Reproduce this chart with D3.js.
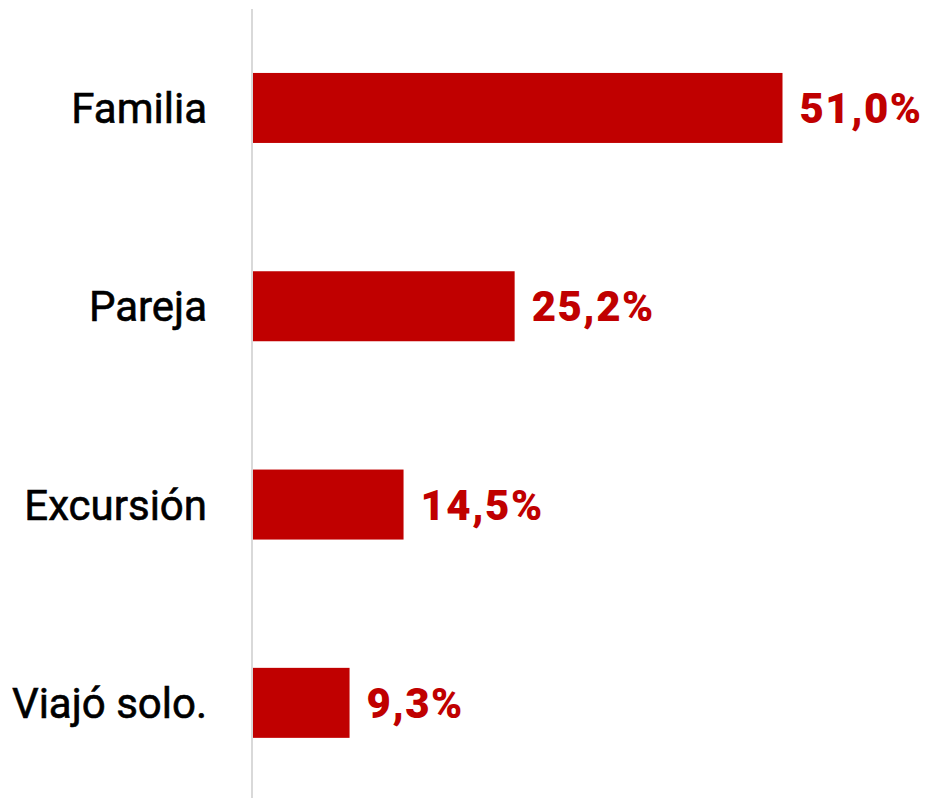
<!DOCTYPE html>
<html><head><meta charset="utf-8">
<script src="https://cdn.jsdelivr.net/npm/d3@7"></script>
<style>html,body{margin:0;padding:0;background:#fff;}</style>
</head><body>
<script>
const categories = ["Familia", "Pareja", "Excursión", "Viajó solo."];
const values = [51.0, 25.2, 14.5, 9.3];
const valueLabels = ["51,0%", "25,2%", "14,5%", "9,3%"];

const W = 926, H = 798;
const svg = d3.select("body").append("svg").attr("width", W).attr("height", H);

const x = d3.scaleLinear().domain([0, 51.0]).range([253, 782.5]);
const y = d3.scaleBand().domain(categories).range([8.8, 802]).paddingInner(0.647).paddingOuter(0.3235);

svg.append("line").attr("x1", 252).attr("x2", 252).attr("y1", 9).attr("y2", H)
  .attr("stroke", "#d9d9d9").attr("stroke-width", 2);

svg.selectAll("rect.bar").data(categories).join("rect").attr("class", "bar")
  .attr("x", x(0)).attr("y", d => y(d)).attr("width", (d, i) => x(values[i]) - x(0))
  .attr("height", y.bandwidth()).attr("fill", "#c00000");

svg.selectAll("text.cat").data(categories).join("text").attr("class", "cat")
  .attr("x", 207).attr("y", d => y(d) + y.bandwidth() / 2).attr("dy", "0.36em")
  .attr("text-anchor", "end").attr("font-family", "Roboto").attr("font-weight", 400)
  .attr("font-size", 42).attr("stroke", "#000").attr("stroke-width", 0.6)
  .attr("fill", "#000").text(d => d);

svg.selectAll("text.val").data(categories).join("text").attr("class", "val")
  .attr("x", (d, i) => x(values[i]) + 17).attr("y", d => y(d) + y.bandwidth() / 2).attr("dy", "0.36em")
  .attr("font-family", "Roboto").attr("font-weight", 900).attr("font-size", 42)
  .attr("letter-spacing", 1.5)
  .attr("fill", "#c00000").text((d, i) => valueLabels[i]);
</script>
</body></html>
